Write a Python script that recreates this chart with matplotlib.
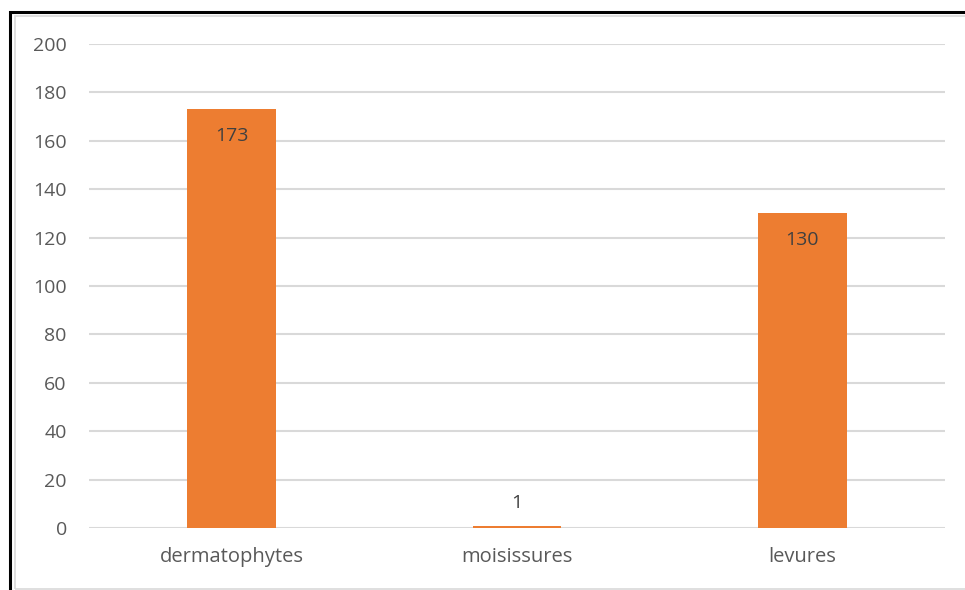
import matplotlib
matplotlib.use("Agg")
import matplotlib.pyplot as plt
from matplotlib.patches import Rectangle

categories = ["dermatophytes", "moisissures", "levures"]
counts = [173, 1, 130]
y_ticks = [0, 20, 40, 60, 80, 100, 120, 140, 160, 180, 200]

plt.rcParams['font.family'] = ['Open Sans', 'DejaVu Sans']

W, H = 965, 590
fig = plt.figure(figsize=(W / 100, H / 100), dpi=100)
fig.patch.set_facecolor("white")

# outer black frame and inner light chart-area frame
fig.add_artist(Rectangle((10 / W, -0.01), 1.05, (H - 12) / H + 0.01,
                         transform=fig.transFigure, fill=False,
                         edgecolor="black", linewidth=2.2))
fig.add_artist(Rectangle((15 / W, 1 / H), 1.05, (H - 17) / H,
                         transform=fig.transFigure, fill=False,
                         edgecolor="#D9D9D9", linewidth=1.2))

ax = fig.add_axes([89 / W, (H - 528) / H, (945 - 89) / W, (528 - 44) / H])
x = range(len(categories))
bars = ax.bar(x, counts, width=0.31, color="#ED7D31", zorder=3)

ax.set_xlim(-0.5, len(categories) - 0.5)
ax.set_ylim(0, 200)
ax.set_yticks(y_ticks)
ax.set_xticks(list(x))
ax.set_xticklabels(categories)
ax.grid(axis="y", color="#D9D9D9", linewidth=1.5, zorder=0)
ax.set_axisbelow(True)
for s in ax.spines.values():
    s.set_visible(False)
ax.tick_params(axis="y", length=0, labelsize=14, colors="#595959", pad=16)
ax.tick_params(axis="x", length=0, labelsize=14.5, colors="#595959", pad=14)

for rect, v in zip(bars, counts):
    cx = rect.get_x() + rect.get_width() / 2
    if v > 20:
        ax.annotate(str(v), (cx, v), xytext=(0, -19), textcoords="offset points",
                    ha="center", va="center", fontsize=14, color="#404040", zorder=4)
    else:
        ax.annotate(str(v), (cx, v), xytext=(0, 16), textcoords="offset points",
                    ha="center", va="center", fontsize=14, color="#404040", zorder=4)

fig.savefig("out.png", dpi=100, facecolor="white")
